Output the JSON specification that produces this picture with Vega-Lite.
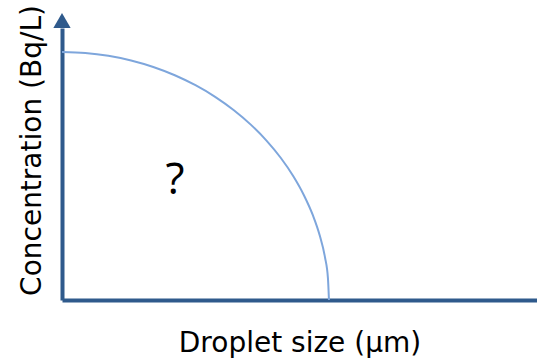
{
  "$schema": "https://vega.github.io/schema/vega-lite/v6.json",
  "width": 475,
  "height": 272,
  "autosize": {"type": "none"},
  "padding": {"left": 62, "top": 28, "right": 0, "bottom": 63},
  "background": "white",
  "config": {"view": {"stroke": null}},
  "datasets": {
    "curve": [
      {"size": 56.2, "conc": 0},
      {"size": 55.99, "conc": 7.95},
      {"size": 55.35, "conc": 15.83},
      {"size": 54.28, "conc": 23.6},
      {"size": 52.81, "conc": 31.18},
      {"size": 50.93, "conc": 38.53},
      {"size": 48.67, "conc": 45.59},
      {"size": 46.04, "conc": 52.3},
      {"size": 43.05, "conc": 58.61},
      {"size": 39.74, "conc": 64.47},
      {"size": 36.12, "conc": 69.84},
      {"size": 32.24, "conc": 74.69},
      {"size": 28.1, "conc": 78.96},
      {"size": 23.75, "conc": 82.64},
      {"size": 19.22, "conc": 85.68},
      {"size": 14.54, "conc": 88.07},
      {"size": 9.76, "conc": 89.79},
      {"size": 4.9, "conc": 90.83},
      {"size": 0, "conc": 91.18}
    ],
    "arrow": [{"size": 0, "conc": 102.8}],
    "label": [{"size": 23.8, "conc": 43.75, "text": "?"}]
  },
  "layer": [
    {
      "data": {"name": "curve"},
      "mark": {"type": "line", "color": "#7ea6dc", "strokeWidth": 2, "interpolate": "monotone"},
      "encoding": {
        "x": {
          "field": "size", "type": "quantitative",
          "scale": {"domain": [0, 100], "nice": false, "zero": false},
          "axis": {
            "title": "Droplet size (µm)", "ticks": false, "labels": false, "grid": false,
            "domainColor": "#2f5a8c", "domainWidth": 4,
            "titleFont": "DejaVu Sans", "titleFontSize": 28, "titleFontWeight": "normal",
            "titleColor": "#000000", "titlePadding": 29
          }
        },
        "y": {
          "field": "conc", "type": "quantitative",
          "scale": {"domain": [0, 100], "nice": false, "zero": false},
          "axis": {
            "title": "Concentration (Bq/L)", "ticks": false, "labels": false, "grid": false,
            "domainColor": "#2f5a8c", "domainWidth": 4,
            "titleFont": "DejaVu Sans", "titleFontSize": 28, "titleFontWeight": "normal",
            "titleColor": "#000000", "titlePadding": 16, "titleY": 122
          }
        },
        "order": {"field": "size", "type": "quantitative"}
      }
    },
    {
      "data": {"name": "arrow"},
      "mark": {"type": "point", "shape": "triangle-up", "filled": true, "color": "#2f5a8c", "size": 300, "opacity": 1},
      "encoding": {
        "x": {"field": "size", "type": "quantitative"},
        "y": {"field": "conc", "type": "quantitative"}
      }
    },
    {
      "data": {"name": "label"},
      "mark": {"type": "text", "font": "Open Sans", "fontSize": 44, "color": "#000000", "baseline": "middle", "align": "center"},
      "encoding": {
        "x": {"field": "size", "type": "quantitative"},
        "y": {"field": "conc", "type": "quantitative"},
        "text": {"field": "text"}
      }
    }
  ]
}
